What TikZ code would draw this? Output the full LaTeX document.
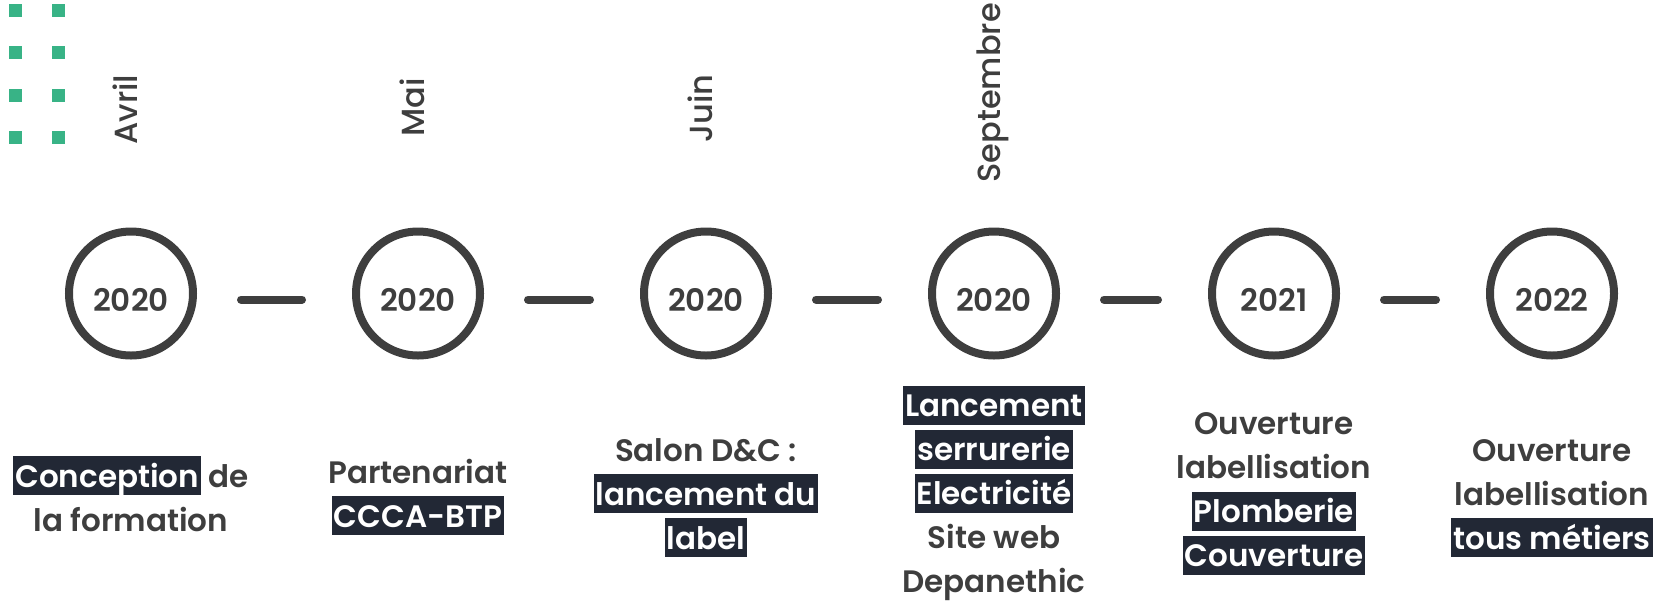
\documentclass[tikz,border=0pt]{standalone}
\usepackage{fontspec}
\setmainfont{Poppins}[BoldFont={Poppins SemiBold}]
\newfontfamily\monthfont{Poppins Medium}

\definecolor{ink}{HTML}{3E3E3E}
\definecolor{navy}{HTML}{222835}
\definecolor{mint}{HTML}{38B386}

\newcommand{\st}{\rule[-8pt]{0pt}{39pt}}
\newcommand{\hl}[1]{{\setlength{\fboxsep}{0pt}\colorbox{navy}{\st\hspace{2pt}\color{white}#1\hspace{2pt}}}}

\tikzset{every picture/.style={line width=0.75pt}}
\tikzset{
  year/.style={circle,draw=ink,line width=8pt,minimum size=124pt,inner sep=0pt,text=ink,font=\fontsize{31}{36}\selectfont\bfseries,text height=36pt,text depth=0pt},
  month/.style={rotate=90,anchor=base west,inner sep=0pt,text=ink,font=\fontsize{32}{36}\selectfont\monthfont},
  event/.style={align=center,inner sep=0pt,text=ink,font=\fontsize{31}{44}\selectfont\bfseries},
  link/.style={draw=ink,line width=8pt,line cap=round,shorten <=44pt,shorten >=50pt},
}

\begin{document}
\begin{tikzpicture}[x=1pt,y=1pt,yscale=-1,xscale=1]
\useasboundingbox (0,0) rectangle (1662,606);

%Green dots
\fill [mint] (9,4) rectangle (22,17) ;
\fill [mint] (52,4) rectangle (65,17) ;
\fill [mint] (9,46) rectangle (22,59) ;
\fill [mint] (52,46) rectangle (65,59) ;
\fill [mint] (9,89) rectangle (22,102) ;
\fill [mint] (52,89) rectangle (65,102) ;
\fill [mint] (9,131) rectangle (22,144) ;
\fill [mint] (52,131) rectangle (65,144) ;

%Year circles
\node [year] (c1) at (131,293.5) {2020};
\node [year] (c2) at (418,293.5) {2020};
\node [year] (c3) at (706,293.5) {2020};
\node [year] (c4) at (994,293.5) {2020};
\node [year] (c5) at (1274,293.5) {2021};
\node [year] (c6) at (1552,293.5) {2022};

%Links
\draw [link] ([yshift=6pt]c1.east) -- ([yshift=6pt]c2.west) ;
\draw [link] ([yshift=6pt]c2.east) -- ([yshift=6pt]c3.west) ;
\draw [link] ([yshift=6pt]c3.east) -- ([yshift=6pt]c4.west) ;
\draw [link] ([yshift=6pt]c4.east) -- ([yshift=6pt]c5.west) ;
\draw [link] ([yshift=6pt]c5.east) -- ([yshift=6pt]c6.west) ;

%Months
\node [month] (m1) at (137,145) {Avril};
\node [month] (m2) at (424,137) {Mai};
\node [month] (m3) at (712,143) {Juin};
\node [month] (m4) at (1000,183) {Septembre};

%Events
\node [event] (t1) at (131,497.5) {\hl{Conception} de\\ \st la formation};
\node [event] (t2) at (418,493.5) {\st Partenariat\\ \hl{CCCA-BTP}};
\node [event] (t3) at (706,493.5) {\st Salon D\&C :\\ \hl{lancement du}\\ \hl{label}};
\node [event] (t4) at (994,493.5) {\hl{Lancement}\\ \hl{serrurerie}\\ \hl{Electricité}\\ \st Site web\\ \st Depanethic};
\node [event] (t5) at (1274,489) {\st Ouverture\\ \st labellisation\\ \hl{Plomberie}\\ \hl{Couverture}};
\node [event] (t6) at (1552,493.5) {\st Ouverture\\ \st labellisation\\ \hl{tous métiers}};

\end{tikzpicture}
\end{document}
